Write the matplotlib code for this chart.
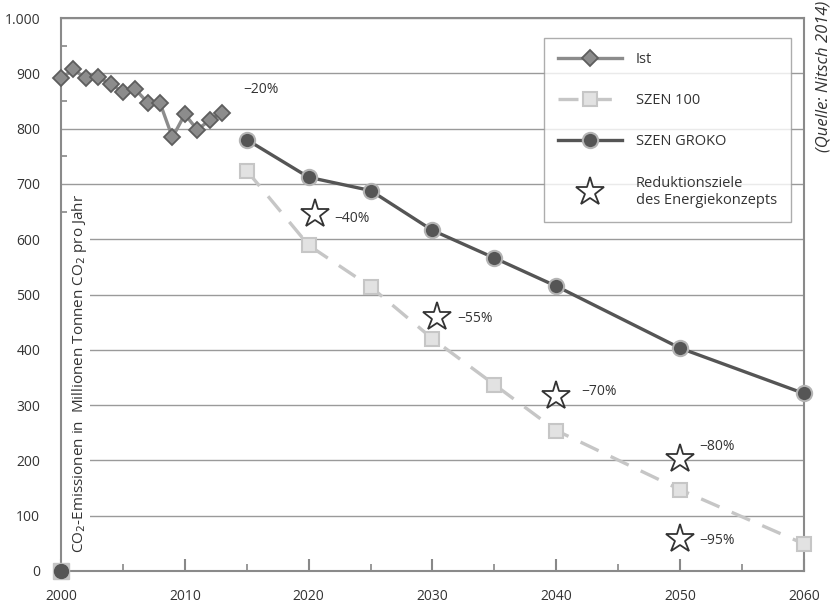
import numpy as np
import matplotlib
matplotlib.use("Agg")
import matplotlib.pyplot as plt
from matplotlib.ticker import MultipleLocator, FuncFormatter
from matplotlib.patches import Rectangle

plt.rcParams["font.family"] = ["Open Sans", "DejaVu Sans"]

# ── data ─────────────────────────────────────────────────────────────────────
ist_years = [2000, 2001, 2002, 2003, 2004, 2005, 2006, 2007, 2008, 2009, 2010,
             2011, 2012, 2013]
ist_values = [891, 907, 891, 893, 881, 866, 871, 847, 846, 784, 826, 798, 815, 829]

szen_years = [2015, 2020, 2025, 2030, 2035, 2040, 2050, 2060]
szen100_values = [724, 589, 514, 420, 337, 254, 147, 49]
groko_values = [780, 712, 688, 616, 566, 515, 403, 321]

# stray zero points plotted at 2000 in the original
start_year = 2000
start_value = 0

target_years = [2020.5, 2030.4, 2040, 2050, 2050]
target_values = [645, 460, 317, 203, 58]
target_labels = ["−40%", "−55%", "−70%", "−80%", "−95%"]
target_offsets = [(14, -3), (14, -1), (18, 3), (14, 9), (14, -1)]

ist_label_pos = (2014.7, 871)
ist_label = "−20%"

# ── figure ───────────────────────────────────────────────────────────────────
fig = plt.figure(figsize=(8.31, 6.06), dpi=100)
ax = fig.add_axes([61 / 831, 35 / 606, 743 / 831, 553 / 606])

C_IST, C_IST_EDGE = "#8c8c8c", "#5e5e5e"
C_100, C_100_FILL = "#c6c6c6", "#e2e2e2"
C_GROKO, C_GROKO_EDGE = "#555555", "#b4b4b4"
TXT = "#333333"
FS = 10

ax.plot(ist_years, ist_values, color=C_IST, lw=2.4, marker="D", ms=7.8,
        mfc=C_IST, mec=C_IST_EDGE, mew=1.3, zorder=4, label="Ist",
        clip_on=False)
ax.plot(szen_years, szen100_values, color=C_100, lw=2.4, ls=(0, (6, 4)),
        marker="s", ms=10.5, mfc=C_100_FILL, mec=C_100, mew=1.5, zorder=3,
        label="SZEN 100", clip_on=False)
ax.plot(szen_years, groko_values, color=C_GROKO, lw=2.4, marker="o", ms=11,
        mfc=C_GROKO, mec=C_GROKO_EDGE, mew=1.5, zorder=4, label="SZEN GROKO",
        clip_on=False)
ax.plot([start_year], [start_value], ls="none", marker="s", ms=12,
        mfc="#c4c4c4", mec="#c4c4c4", zorder=5, clip_on=False)
ax.plot([start_year], [start_value], ls="none", marker="o", ms=10,
        mfc=C_GROKO, mec=C_GROKO, zorder=6, clip_on=False)
ax.plot(target_years, target_values, ls="none", marker="*", ms=21,
        mfc="white", mec="#333333", mew=1.3, zorder=5,
        label="Reduktionsziele\ndes Energiekonzepts")

for x, y, lab, off in zip(target_years, target_values, target_labels, target_offsets):
    ax.annotate(lab, (x, y), xytext=off, textcoords="offset points",
                ha="left", va="center", fontsize=FS, color=TXT, zorder=6)
ax.text(ist_label_pos[0], ist_label_pos[1], ist_label, ha="left", va="center",
        fontsize=FS, color=TXT)

# ── axes formatting ──────────────────────────────────────────────────────────
ax.set_xlim(2000, 2060)
ax.set_ylim(0, 1000)
ax.xaxis.set_major_locator(MultipleLocator(10))
ax.xaxis.set_minor_locator(MultipleLocator(5))
ax.yaxis.set_major_locator(MultipleLocator(100))
ax.yaxis.set_minor_locator(MultipleLocator(50))
ax.yaxis.set_major_formatter(
    FuncFormatter(lambda v, _: "1.000" if v == 1000 else f"{v:.0f}"))
ax.tick_params(axis="x", which="major", direction="in", length=9, width=1.5,
               color="#888888", labelsize=FS, labelcolor=TXT, pad=13)
ax.tick_params(axis="x", which="minor", direction="in", length=5, width=1.2,
               color="#888888")
ax.tick_params(axis="y", which="major", direction="out", length=0,
               labelsize=FS, labelcolor=TXT, pad=15)
ax.tick_params(axis="y", which="minor", direction="in", length=4, width=1.2,
               color="#888888")
for s in ax.spines.values():
    s.set_color("#8a8a8a")
    s.set_linewidth(1.5)
ax.grid(axis="y", which="major", color="#9a9a9a", lw=1, zorder=0)
ax.set_axisbelow(True)

# white strip behind the inside y label, gridlines stop there
ax.add_patch(Rectangle((0, 0), 29 / 743, 0.64, transform=ax.transAxes,
                       facecolor="white", edgecolor="none", zorder=1))
ax.text(19 / 743, 0.033,
        "CO$_2$-Emissionen in  Millionen Tonnen CO$_2$ pro Jahr",
        transform=ax.transAxes, rotation=90, ha="center", va="bottom",
        fontsize=11, color=TXT, zorder=2)

leg = ax.legend(loc="upper right", bbox_to_anchor=(0.9825, 0.964),
                fontsize=10.5, frameon=True, fancybox=False, handlelength=4.4,
                labelspacing=1.8, borderpad=0.95, handletextpad=0.95,
                borderaxespad=0)
leg.get_frame().set_edgecolor("#999999")
leg.get_frame().set_linewidth(1)
for t in leg.get_texts():
    t.set_color(TXT)

fig.text(823 / 831, 0.998, "(Quelle: Nitsch 2014)", rotation=90, ha="center",
         va="top", fontsize=12, fontstyle="italic", color=TXT)

fig.savefig("out.png", dpi=100)
plt.close(fig)
